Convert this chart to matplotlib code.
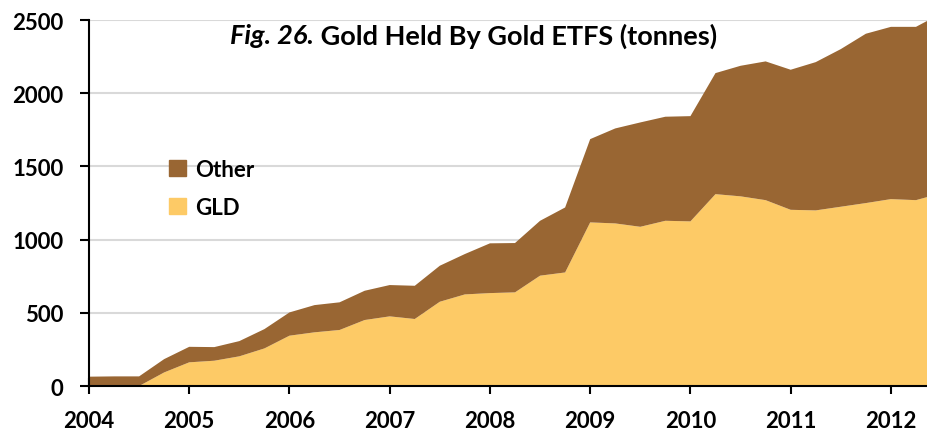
import numpy as np
import matplotlib
matplotlib.use('Agg')
import matplotlib.pyplot as plt
from matplotlib.patches import Patch
from matplotlib.ticker import MultipleLocator

# Quarterly holdings (tonnes)
quarters = [2004.0, 2004.25, 2004.5, 2004.75,
            2005.0, 2005.25, 2005.5, 2005.75,
            2006.0, 2006.25, 2006.5, 2006.75,
            2007.0, 2007.25, 2007.5, 2007.75,
            2008.0, 2008.25, 2008.5, 2008.75,
            2009.0, 2009.25, 2009.5, 2009.75,
            2010.0, 2010.25, 2010.5, 2010.75,
            2011.0, 2011.25, 2011.5, 2011.75,
            2012.0, 2012.25, 2012.5]
gld = [0, 0, 0, 93,
       162, 173, 203, 257,
       344, 367, 383, 451,
       476, 458, 576, 626,
       635, 640, 754, 776,
       1118, 1111, 1088, 1129,
       1125, 1311, 1296, 1270,
       1204, 1200, 1225, 1250,
       1277, 1270, 1317]
total = [64, 66, 66, 184,
         268, 266, 307, 389,
         503, 553, 572, 651,
         690, 685, 822, 902,
         975, 977, 1129, 1220,
         1687, 1760, 1801, 1840,
         1844, 2138, 2188, 2218,
         2161, 2213, 2302, 2407,
         2454, 2454, 2545]
other = [t - g for t, g in zip(total, gld)]

year_ticks = list(range(2004, 2013))
gld_color = '#FDCA66'
other_color = '#996633'

plt.rcParams['font.family'] = ['Lato', 'DejaVu Sans']
plt.rcParams['font.weight'] = 'bold'

fig = plt.figure(figsize=(9.28, 4.31), dpi=100)
ax = fig.add_axes([0.0959, 0.102, 0.9041, 0.849])

ax.stackplot(quarters, gld, other, colors=[gld_color, other_color],
             linewidth=0, zorder=2)

ax.set_xlim(2004, 2012.37)
ax.set_ylim(0, 2500)
ax.yaxis.set_major_locator(MultipleLocator(500))
ax.grid(axis='y', color='#d9d9d9', linewidth=1.5, zorder=0)
ax.set_axisbelow(True)

ax.set_xticks(year_ticks)
ax.set_xticklabels([str(y) for y in year_ticks])
ax.xaxis.set_minor_locator(MultipleLocator(0.5))
ax.tick_params(axis='x', which='major', direction='inout', length=11,
               width=1.5, pad=11.5, labelsize=16)
ax.tick_params(axis='x', which='minor', direction='in', length=5, width=1.5)
ax.tick_params(axis='y', which='major', direction='out', length=6.5,
               width=1.5, pad=12, labelsize=16)
for lbl in ax.get_xticklabels() + ax.get_yticklabels():
    lbl.set_fontweight('bold')

ax.spines['top'].set_visible(False)
ax.spines['right'].set_visible(False)
ax.spines['left'].set_linewidth(1.5)
ax.spines['bottom'].set_linewidth(1.5)
ax.spines['bottom'].set_zorder(5)

# Title inside the plot: italic "Fig. 26." followed by bold text
t1 = ax.text(0.168, 0.958, 'Fig. 26.', transform=ax.transAxes,
             fontsize=19.5, fontweight='bold', fontstyle='italic',
             ha='left', va='center')
ax.annotate(' Gold Held By Gold ETFS (tonnes)', xy=(1, 0.5), xycoords=t1,
            fontsize=19.5, fontweight='bold', ha='left', va='center')

handles = [Patch(color=other_color, label='Other'),
           Patch(color=gld_color, label='GLD')]
leg = ax.legend(handles=handles, loc='upper left',
                bbox_to_anchor=(0.072, 0.675), frameon=False,
                handlelength=0.75, handleheight=0.75, handletextpad=0.4,
                labelspacing=0.75, prop={'size': 16, 'weight': 'bold'})

fig.savefig('out.png', dpi=100)
